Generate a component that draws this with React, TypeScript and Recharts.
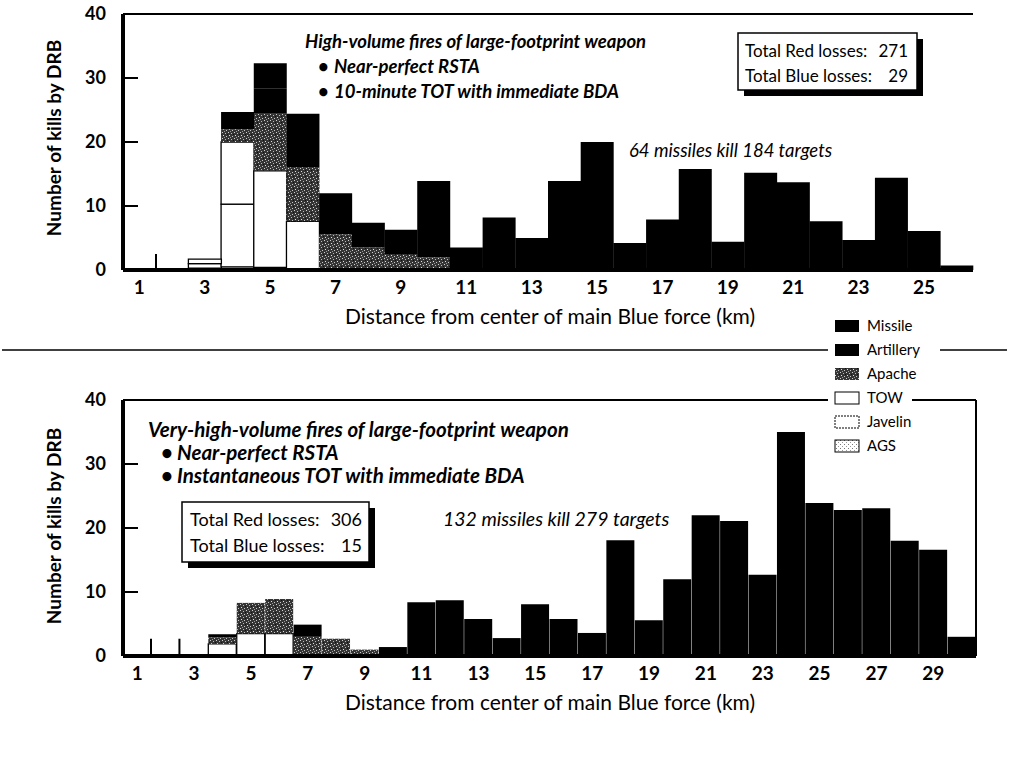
import React from 'react';
import { BarChart, Bar, XAxis, YAxis, ReferenceLine } from 'recharts';

const FONT = "Lato, 'Open Sans', sans-serif";

// ---------- Top panel data (km bins 1..26) ----------
const topKm = [1, 2, 3, 4, 5, 6, 7, 8, 9, 10, 11, 12, 13, 14, 15, 16, 17, 18, 19, 20, 21, 22, 23, 24, 25, 26];
const topMarker = [2.5, 0, 0, 0, 0, 0, 0, 0, 0, 0, 0, 0, 0, 0, 0, 0, 0, 0, 0, 0, 0, 0, 0, 0, 0, 0];
const topAGS = [0, 0, 0.3, 0.5, 0.4, 0.2, 0, 0, 0, 0, 0, 0, 0, 0, 0, 0, 0, 0, 0, 0, 0, 0, 0, 0, 0, 0];
const topJavelin = [0, 0, 0.7, 9.8, 0, 0, 0, 0, 0, 0, 0, 0, 0, 0, 0, 0, 0, 0, 0, 0, 0, 0, 0, 0, 0, 0];
const topTOW = [0, 0, 0.7, 9.7, 15.1, 7.4, 0, 0, 0, 0, 0, 0, 0, 0, 0, 0, 0, 0, 0, 0, 0, 0, 0, 0, 0, 0];
const topApache = [0, 0, 0, 2.0, 8.9, 8.5, 5.6, 3.5, 2.5, 2.0, 0, 0, 0, 0, 0, 0, 0, 0, 0, 0, 0, 0, 0, 0, 0, 0];
const topArtillery = [0, 0, 0, 2.7, 4.0, 0, 0, 0, 0, 0, 0, 0, 0, 0, 0, 0, 0, 0, 0, 0, 0, 0, 0, 0, 0, 0];
const topMissile = [0, 0, 0, 0, 3.9, 8.3, 6.4, 3.9, 3.8, 11.9, 3.5, 8.2, 5.0, 13.9, 20.0, 4.2, 7.9, 15.8, 4.4, 15.2, 13.7, 7.6, 4.7, 14.4, 6.1, 0.7];

// ---------- Bottom panel data (km bins 1..30) ----------
const botKm = [1, 2, 3, 4, 5, 6, 7, 8, 9, 10, 11, 12, 13, 14, 15, 16, 17, 18, 19, 20, 21, 22, 23, 24, 25, 26, 27, 28, 29, 30];
const botMarker = [2.7, 2.7, 0, 0, 0, 0, 0, 0, 0, 0, 0, 0, 0, 0, 0, 0, 0, 0, 0, 0, 0, 0, 0, 0, 0, 0, 0, 0, 0, 0];
const botAGS = [0, 0, 0, 0, 0, 0, 0, 0, 0, 0, 0, 0, 0, 0, 0, 0, 0, 0, 0, 0, 0, 0, 0, 0, 0, 0, 0, 0, 0, 0];
const botJavelin = [0, 0, 0, 0, 0, 0, 0, 0, 0, 0, 0, 0, 0, 0, 0, 0, 0, 0, 0, 0, 0, 0, 0, 0, 0, 0, 0, 0, 0, 0];
const botTOW = [0, 0, 0, 1.9, 3.5, 3.5, 0, 0, 0, 0, 0, 0, 0, 0, 0, 0, 0, 0, 0, 0, 0, 0, 0, 0, 0, 0, 0, 0, 0, 0];
const botApache = [0, 0, 0, 1.0, 4.8, 5.4, 3.0, 2.7, 1.0, 0, 0, 0, 0, 0, 0, 0, 0, 0, 0, 0, 0, 0, 0, 0, 0, 0, 0, 0, 0, 0];
const botArtillery = [0, 0, 0, 0.5, 0, 0, 1.9, 0, 0, 0, 0, 0, 0, 0, 0, 0, 0, 0, 0, 0, 0, 0, 0, 0, 0, 0, 0, 0, 0, 0];
const botMissile = [0, 0, 0, 0, 0, 0, 0, 0, 0, 1.4, 8.4, 8.7, 5.8, 2.8, 8.1, 5.8, 3.6, 18.1, 5.6, 12.0, 22.0, 21.1, 12.7, 35.0, 23.9, 22.8, 23.1, 18.0, 16.6, 3.0];

const yTicks = [0, 10, 20, 30, 40];
const xTitle = 'Distance from center of main Blue force (km)';
const yTitle = 'Number of kills by DRB';
const legendItems = ['Missile', 'Artillery', 'Apache', 'TOW', 'Javelin', 'AGS'];

const buildRows = (km: number[], m: number[], ags: number[], jav: number[], tow: number[], apa: number[], art: number[], mis: number[]) =>
  km.map((k, i) => ({ km: k, marker: m[i], AGS: ags[i], Javelin: jav[i], TOW: tow[i], Apache: apa[i], Artillery: art[i], Missile: mis[i] }));

const topRows = buildRows(topKm, topMarker, topAGS, topJavelin, topTOW, topApache, topArtillery, topMissile);
const botRows = buildRows(botKm, botMarker, botAGS, botJavelin, botTOW, botApache, botArtillery, botMissile);

const MarkerShape = (p: any) => {
  if (!p.height) return null;
  const x = p.x + p.width;
  return <line x1={x} x2={x} y1={p.y} y2={p.y + p.height} stroke="#000" strokeWidth={2} />;
};

const fills: Record<string, string> = {
  Missile: '#000',
  Artillery: '#000',
  Apache: 'url(#apachePat)',
  TOW: '#fff',
  Javelin: '#fff',
  AGS: 'url(#agsPat)',
};

function Chart({ rows, lastKm, width, height, margin, xHeight }: any) {
  const series = ['AGS', 'Javelin', 'TOW', 'Apache', 'Artillery', 'Missile'];
  return (
    <BarChart width={width} height={height} data={rows} margin={margin} barCategoryGap={0} barGap={0}>
      <XAxis
        dataKey="km"
        type="category"
        interval={1}
        tickLine={false}
        tickSize={0}
        tickMargin={11}
        axisLine={{ stroke: '#000', strokeWidth: 4 }}
        tick={{ fontSize: 19, fontWeight: 700, fill: '#000', fontFamily: FONT }}
        height={xHeight}
      />
      <YAxis
        type="number"
        domain={[0, 40]}
        ticks={yTicks}
        interval={0}
        allowDataOverflow
        width={123}
        tickSize={-15}
        tickMargin={32}
        tickLine={{ stroke: '#000', strokeWidth: 2 }}
        axisLine={{ stroke: '#000', strokeWidth: 4 }}
        tick={{ fontSize: 18, fontWeight: 700, fill: '#000', fontFamily: FONT }}
      />
      <Bar dataKey="marker" stackId="s" shape={MarkerShape} isAnimationActive={false} />
      {series.map((s) => (
        <Bar
          key={s}
          dataKey={s}
          stackId="s"
          fill={fills[s]}
          stroke={s === 'TOW' || s === 'Javelin' || s === 'AGS' ? '#000' : 'none'}
          strokeWidth={s === 'TOW' || s === 'Javelin' ? 1.3 : 0.8}
          isAnimationActive={false}
        />
      ))}
      <ReferenceLine y={40} stroke="#000" strokeWidth={2} />
      <ReferenceLine x={lastKm} position="end" stroke="#000" strokeWidth={2} />
    </BarChart>
  );
}

function Overlay() {
  const legendY = [326, 350, 374, 398, 422, 446];
  const legendW = [62, 70, 62, 42, 58, 42];
  return (
    <svg width={1009} height={763} style={{ position: 'absolute', left: 0, top: 0, pointerEvents: 'none' }} fontFamily={FONT}>
      <defs>
        <pattern id="apachePat" width="6" height="6" patternUnits="userSpaceOnUse">
          <rect width="6" height="6" fill="#353535" />
          <rect x="0" y="0" width="1" height="1" fill="#d0d0d0" />
          <rect x="3" y="1" width="1" height="1" fill="#bbbbbb" />
          <rect x="1" y="3" width="1" height="1" fill="#e0e0e0" />
          <rect x="4" y="4" width="1" height="1" fill="#c8c8c8" />
          <rect x="5" y="2" width="1" height="1" fill="#111" />
          <rect x="2" y="5" width="1" height="1" fill="#999" />
        </pattern>
        <pattern id="agsPat" width="4" height="4" patternUnits="userSpaceOnUse">
          <rect width="4" height="4" fill="#fff" />
          <rect x="0" y="0" width="1" height="1" fill="#777" />
          <rect x="2" y="2" width="1" height="1" fill="#999" />
        </pattern>
      </defs>

      {/* separator line */}
      <line x1={2} x2={1007} y1={350} y2={350} stroke="#000" strokeWidth={1.6} />

      {/* y titles */}
      <text transform="translate(61,138) rotate(-90)" textAnchor="middle" fontSize={19} fontWeight={700} fill="#000">{yTitle}</text>
      <text transform="translate(61,526) rotate(-90)" textAnchor="middle" fontSize={19} fontWeight={700} fill="#000">{yTitle}</text>

      {/* x titles */}
      <text x={550} y={324} textAnchor="middle" fontSize={21} fill="#000">{xTitle}</text>
      <text x={550} y={710} textAnchor="middle" fontSize={21} fill="#000">{xTitle}</text>

      {/* top annotations */}
      <g fontStyle="italic" fontWeight={700} fontSize={18.5} fill="#000">
        <text x={305} y={48}>High-volume fires of large-footprint weapon</text>
        <text x={318} y={73}>•</text>
        <text x={334} y={73}>Near-perfect RSTA</text>
        <text x={318} y={98}>•</text>
        <text x={334} y={98}>10-minute TOT with immediate BDA</text>
      </g>
      <text x={629} y={157} fontStyle="italic" fontSize={18.5} fill="#000">64 missiles kill 184 targets</text>

      {/* top box */}
      <rect x={744} y={39} width={179} height={57} fill="#000" />
      <rect x={738} y={33} width={179} height={57} fill="#fff" stroke="#000" strokeWidth={1.5} />
      <g fontSize={17} fill="#000">
        <text x={745} y={57}>Total Red losses:</text>
        <text x={908} y={57} textAnchor="end">271</text>
        <text x={745} y={82}>Total Blue losses:</text>
        <text x={908} y={82} textAnchor="end">29</text>
      </g>

      {/* bottom annotations */}
      <g fontStyle="italic" fontWeight={700} fontSize={20.5} fill="#000">
        <text x={148} y={437}>Very-high-volume fires of large-footprint weapon</text>
        <text x={161} y={460}>•</text>
        <text x={177} y={460}>Near-perfect RSTA</text>
        <text x={161} y={483}>•</text>
        <text x={177} y={483}>Instantaneous TOT with immediate BDA</text>
      </g>
      <text x={443} y={526} fontStyle="italic" fontSize={19.5} fill="#000">132 missiles kill 279 targets</text>

      {/* bottom box */}
      <rect x={188} y={508} width={187} height={60} fill="#000" />
      <rect x={182} y={502} width={187} height={60} fill="#fff" stroke="#000" strokeWidth={1.5} />
      <g fontSize={18} fill="#000">
        <text x={190} y={526}>Total Red losses:</text>
        <text x={362} y={526} textAnchor="end">306</text>
        <text x={190} y={552}>Total Blue losses:</text>
        <text x={362} y={552} textAnchor="end">15</text>
      </g>

      {/* legend */}
      {legendItems.map((name, i) => {
        const cy = legendY[i];
        const border = name === 'TOW' || name === 'Javelin' || name === 'AGS';
        return (
          <g key={name}>
            <rect x={828} y={cy - 10} width={legendW[i] + 42} height={20} fill="#fff" />
            <rect
              x={835}
              y={cy - 6}
              width={24}
              height={12}
              fill={fills[name]}
              stroke={border ? '#000' : 'none'}
              strokeWidth={1}
              strokeDasharray={name === 'Javelin' ? '2 1' : undefined}
            />
            <text x={867} y={cy + 5} fontSize={15} fill="#000">{name}</text>
          </g>
        );
      })}
    </svg>
  );
}

export default function App() {
  return (
    <div style={{ position: 'absolute', left: 0, top: 0, width: 1009, height: 763, background: '#fff', fontFamily: FONT }}>
      <div style={{ position: 'absolute', left: 0, top: 0 }}>
        <Chart rows={topRows} lastKm={26} width={1009} height={330} margin={{ top: 14, right: 36, bottom: 0, left: 0 }} xHeight={60} />
      </div>
      <div style={{ position: 'absolute', left: 0, top: 370 }}>
        <Chart rows={botRows} lastKm={30} width={1009} height={393} margin={{ top: 30, right: 33, bottom: 0, left: 0 }} xHeight={107} />
      </div>
      <Overlay />
    </div>
  );
}
